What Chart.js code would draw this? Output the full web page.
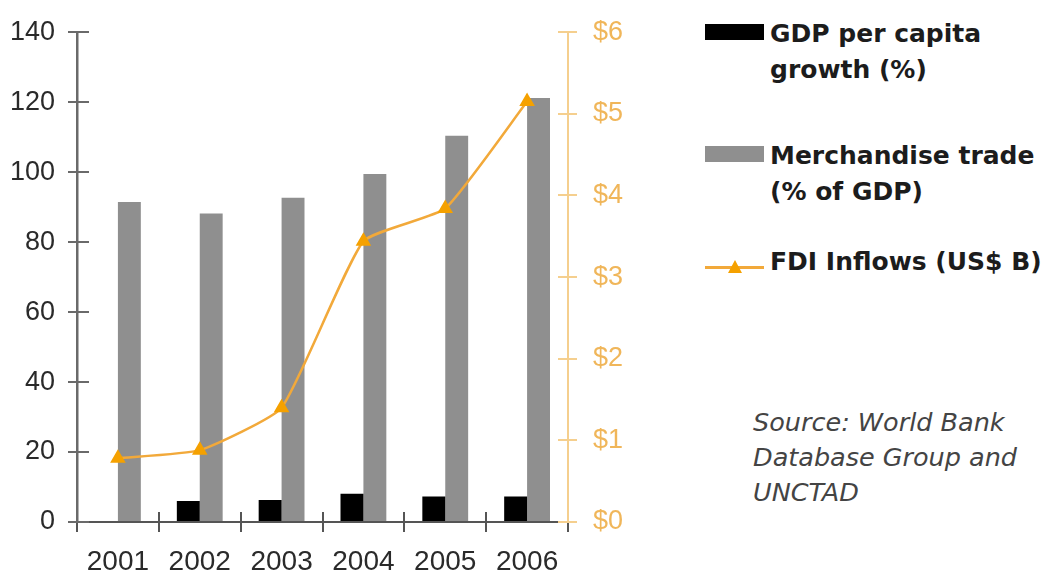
<!DOCTYPE html>
<html>
<head>
<meta charset="utf-8">
<title>GDP, trade and FDI 2001-2006</title>
<script src="https://cdn.jsdelivr.net/npm/chart.js@4.4.1/dist/chart.umd.min.js"></script>
<style>
  html, body { margin: 0; padding: 0; background: #fff; }
  #wrap { position: relative; width: 1064px; height: 576px; overflow: hidden; }
  #chart { position: absolute; left: 0; top: 0; }
  .lg-row { position: absolute; left: 705px; }
  .lg-swatch { position: absolute; left: 0; width: 59px; height: 16px; }
  .lg-text {
    position: absolute; left: 65px; width: 310px;
    font: bold 25px "DejaVu Sans", Verdana, sans-serif;
    line-height: 36px; color: #1c1c1c; white-space: pre-line;
  }
  .lg-line { position: absolute; left: 0; width: 59px; height: 3px; }
  .lg-tri {
    position: absolute; left: 23px; width: 0; height: 0;
    border-left: 7px solid transparent; border-right: 7px solid transparent;
  }
  #source {
    position: absolute; left: 753px; top: 405px;
    font: oblique 25.5px "DejaVu Sans", Verdana, sans-serif;
    line-height: 35px; color: #444;
  }
</style>
</head>
<body>
<div id="wrap">
  <canvas id="chart" width="640" height="576"></canvas>
  <div id="legend"></div>
  <div id="source">Source: World Bank<br>Database Group and<br>UNCTAD</div>
</div>
<script>
// data
const years = ["2001", "2002", "2003", "2004", "2005", "2006"];
const gdpGrowth = [null, 6.0, 6.3, 8.1, 7.3, 7.3];          // % (left axis)
const merchTrade = [91.5, 88.2, 92.7, 99.5, 110.4, 121.2];  // % of GDP (left axis)
const fdiInflows = [0.78, 0.88, 1.40, 3.44, 3.84, 5.15];    // US$ B (right axis)

const seriesNames = ["GDP per capita\ngrowth (%)", "Merchandise trade\n(% of GDP)", "FDI Inflows (US$ B)"];
const leftTicks = { min: 0, max: 140, step: 20 };
const rightTicks = { min: 0, max: 6, step: 1 };

const BLACK = "#000000";
const GREY = "#8f8f8f";
const ORANGE = "#f2a93a";
const ORANGE_PT = "#f5a100";
const AXIS_DARK = "#555555";
const AXIS_GREY = "#6a6a6a";
const AXIS_ORANGE = "#f5cf8e";

// axis ticks in the picture cross the axis line, Chart.js only draws the outer half
const crossTicks = {
  id: "crossTicks",
  afterDraw(chart) {
    const ctx = chart.ctx;
    const { left, right, bottom } = chart.chartArea;
    const yl = chart.scales.y;
    const yr = chart.scales.y2;
    const xs = chart.scales.x;
    ctx.save();
    ctx.lineWidth = 2;

    ctx.strokeStyle = AXIS_GREY;
    yl.ticks.forEach((t, i) => {
      const y = Math.round(yl.getPixelForTick(i));
      ctx.beginPath(); ctx.moveTo(left, y); ctx.lineTo(left + 12, y); ctx.stroke();
    });

    ctx.strokeStyle = AXIS_ORANGE;
    yr.ticks.forEach((t, i) => {
      const y = Math.round(yr.getPixelForTick(i));
      ctx.beginPath(); ctx.moveTo(right - 10, y); ctx.lineTo(right, y); ctx.stroke();
    });

    ctx.strokeStyle = AXIS_DARK;
    const n = years.length;
    for (let i = 1; i < n; i++) {
      const x = Math.round(xs.left + i * xs.width / n);
      ctx.beginPath(); ctx.moveTo(x, bottom); ctx.lineTo(x, bottom - 10); ctx.stroke();
    }
    ctx.restore();
  }
};

const tickFont = { family: "'Liberation Sans', Arial, sans-serif", size: 27 };

const chart = new Chart(document.getElementById("chart"), {
  data: {
    labels: years,
    datasets: [
      {
        type: "bar", label: seriesNames[0], data: gdpGrowth,
        backgroundColor: BLACK, yAxisID: "y", order: 1,
        barPercentage: 1.0, categoryPercentage: 0.56
      },
      {
        type: "bar", label: seriesNames[1], data: merchTrade,
        backgroundColor: GREY, yAxisID: "y", order: 1,
        barPercentage: 1.0, categoryPercentage: 0.56
      },
      {
        type: "line", label: seriesNames[2], data: fdiInflows,
        yAxisID: "y2", order: 0,
        borderColor: ORANGE, borderWidth: 2.5, tension: 0.15,
        pointStyle: "triangle", pointRadius: 6.5,
        pointBackgroundColor: ORANGE_PT, pointBorderColor: ORANGE_PT
      }
    ]
  },
  options: {
    responsive: false,
    animation: false,
    layout: { padding: { top: 31, bottom: 0, left: 0, right: 0 } },
    plugins: { legend: { display: false }, tooltip: { enabled: false } },
    scales: {
      x: {
        grid: { drawOnChartArea: false, tickLength: 10, color: AXIS_DARK, lineWidth: 2 },
        border: { color: AXIS_DARK, width: 2 },
        ticks: { font: { family: tickFont.family, size: 28 }, color: "#2a2a2a", padding: 13, maxRotation: 0 },
        afterFit(s) { s.height = 54; }
      },
      y: {
        position: "left",
        min: leftTicks.min, max: leftTicks.max,
        grid: { drawOnChartArea: false, tickLength: 9, color: AXIS_GREY, lineWidth: 2 },
        border: { color: AXIS_GREY, width: 2.5 },
        ticks: { stepSize: leftTicks.step, font: tickFont, color: "#2a2a2a", padding: 13 },
        afterFit(s) { s.width = 77; }
      },
      y2: {
        position: "right",
        min: rightTicks.min, max: rightTicks.max,
        grid: { drawOnChartArea: false, tickLength: 9, color: AXIS_ORANGE, lineWidth: 2 },
        border: { color: AXIS_ORANGE, width: 2 },
        ticks: {
          stepSize: rightTicks.step, font: tickFont, color: "#f0b65a", padding: 16,
          callback: v => "$" + v
        },
        afterFit(s) { s.width = 72; }
      }
    }
  },
  plugins: [crossTicks]
});

// html legend, built from the dataset labels and colours
const legendTops = [16, 138, 244];
const legend = document.getElementById("legend");
chart.data.datasets.forEach((ds, i) => {
  const row = document.createElement("div");
  row.className = "lg-row";
  row.style.top = legendTops[i] + "px";
  if (ds.type === "bar") {
    const sw = document.createElement("div");
    sw.className = "lg-swatch";
    sw.style.top = "8px";
    sw.style.background = ds.backgroundColor;
    row.appendChild(sw);
  } else {
    const ln = document.createElement("div");
    ln.className = "lg-line";
    ln.style.top = "22px";
    ln.style.background = ds.borderColor;
    row.appendChild(ln);
    const tri = document.createElement("div");
    tri.className = "lg-tri";
    tri.style.top = "16px";
    tri.style.borderBottom = "13px solid " + ds.pointBackgroundColor;
    row.appendChild(tri);
  }
  const tx = document.createElement("div");
  tx.className = "lg-text";
  tx.style.top = "0px";
  tx.textContent = ds.label;
  row.appendChild(tx);
  legend.appendChild(row);
});
</script>
</body>
</html>
